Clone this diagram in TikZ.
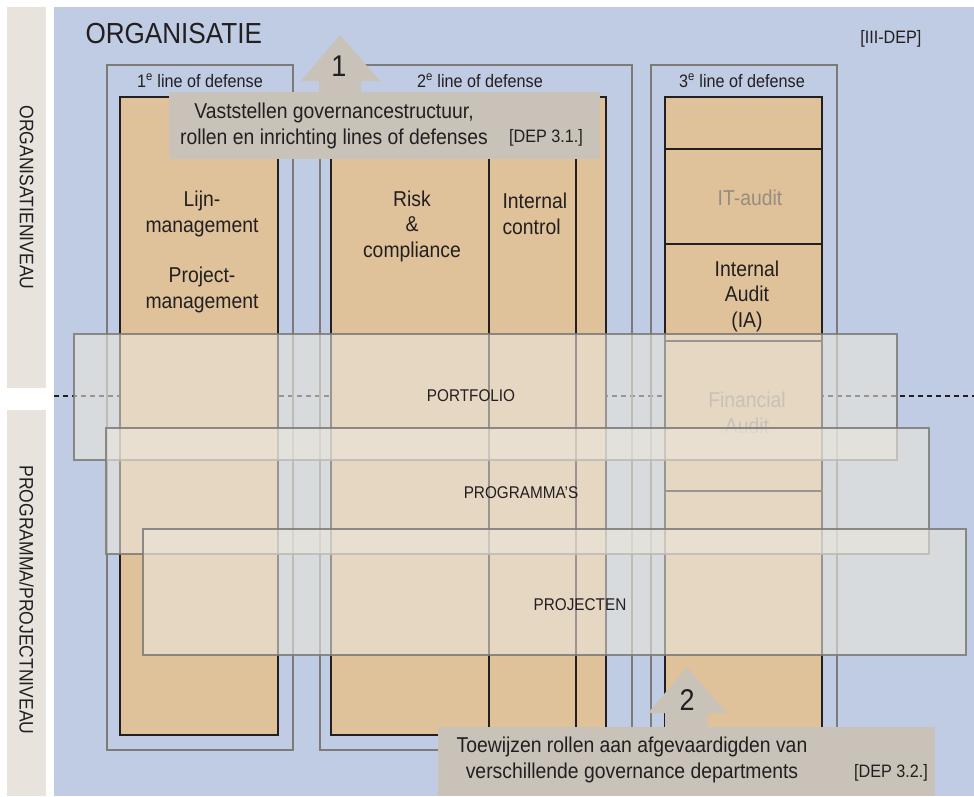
\documentclass[tikz,border=0pt]{standalone}
\usepackage{fontspec}
\setmainfont{Liberation Sans}[FakeStretch=0.9]
\usetikzlibrary{calc}

\definecolor{bgblue}{RGB}{191,204,227}
\definecolor{colorange}{RGB}{223,194,153}
\definecolor{sidegrey}{RGB}{232,227,221}
\definecolor{notegrey}{RGB}{201,194,184}
\definecolor{framegrey}{RGB}{125,122,120}
\definecolor{inkblack}{RGB}{35,31,32}
\definecolor{fadetext}{RGB}{150,140,128}
\definecolor{veil}{RGB}{234,229,220}

\begin{document}
\begin{tikzpicture}[x=1pt,y=-1pt,
	box/.style={inner sep=0pt,outer sep=0pt,anchor=north west},
	lod/.style={box,draw=framegrey,line width=2pt},
	column/.style={box,draw=inkblack,fill=colorange,line width=2.5pt},
	divider/.style={draw=inkblack,line width=2.5pt},
	level/.style={box,draw=framegrey,fill=veil,fill opacity=0.6,draw opacity=0.85,line width=2pt},
	note/.style={box,fill=notegrey},
	txt/.style={font=\fontsize{21.5}{25.5}\selectfont,text=inkblack,align=center},
	small/.style={font=\fontsize{18}{22}\selectfont,text=inkblack},
	lvl/.style={font=\fontsize{17}{20}\selectfont,text=inkblack}]
		\useasboundingbox (0,0) rectangle (974,796);
		\node[box,fill=sidegrey,minimum width=39pt,minimum height=381pt] (side1) at (7,7) {};
		\node[box,fill=sidegrey,minimum width=39pt,minimum height=386pt] (side2) at (7,410) {};
		\node[box,fill=bgblue,minimum width=920pt,minimum height=789pt] (bg) at (54,7) {};
		\node[font=\fontsize{19.5}{22}\selectfont,text=inkblack,rotate=-90] (orgniv) at (side1.center) {ORGANISATIENIVEAU};
		\node[font=\fontsize{19.5}{22}\selectfont,text=inkblack,rotate=-90] (prjniv) at ($(side2.center)+(0,-3)$) {PROGRAMMA/PROJECTNIVEAU};
		\node[font=\fontsize{29}{32}\selectfont,text=inkblack,anchor=base west] (title) at (82,43) {ORGANISATIE};
		\node[small,anchor=base east] (ref) at (925,43) {[III-DEP]};

		\coordinate (dl) at (54,396);
		\coordinate (dr) at (974,396);
		\draw[inkblack,line width=1.6pt,dash pattern=on 5pt off 4pt] (dl) -- (dr);

		\node[lod,minimum width=186pt,minimum height=685pt] (lod1) at (107,65) {};
		\node[lod,minimum width=312pt,minimum height=685pt] (lod2) at (320,65) {};
		\node[lod,minimum width=186pt,minimum height=685pt] (lod3) at (651,65) {};
		\node[small,anchor=base] (lodt1) at (200,87) {1\textsuperscript{e} line of defense};
		\node[small,anchor=base] (lodt2) at (480,87) {2\textsuperscript{e} line of defense};
		\node[small,anchor=base] (lodt3) at (742,87) {3\textsuperscript{e} line of defense};

		\node[column,minimum width=158pt,minimum height=638pt] (col1) at (120,97) {};
		\node[column,minimum width=275pt,minimum height=638pt] (col2) at (331,97) {};
		\node[column,minimum width=157pt,minimum height=638pt] (col3) at (665,97) {};
		\draw[divider] ($(col2.north west)+(158,0)$) -- ($(col2.south west)+(158,0)$);
		\draw[divider] ($(col2.north west)+(245,0)$) -- ($(col2.south west)+(245,0)$);
		\foreach \dy in {52,147,244,394}
			\draw[divider] ($(col3.north west)+(0,\dy)$) -- ($(col3.north east)+(0,\dy)$);

		\node[txt] (lijn) at (202,214) {Lijn-\\management};
		\node[txt] (proj) at (202,290) {Project-\\management};
		\node[txt] (risk) at (412,226) {Risk\\\&\\compliance};
		\node[txt,align=left,anchor=west] (ic) at (499,214) {Internal\\control};
		\node[txt,text=fadetext] (itaudit) at (750,198) {IT-audit};
		\node[txt] (ia) at (747,296) {Internal\\Audit\\(IA)};
		\node[txt,text=fadetext] (fa) at (747,413) {Financial\\Audit};

		\node[level,minimum width=823pt,minimum height=126pt] (portfolio) at (74,334) {};
		\node[level,minimum width=823pt,minimum height=126pt] (programmas) at (106,428) {};
		\node[level,minimum width=823pt,minimum height=126pt] (projecten) at (143,529) {};
		\node[lvl] (portt) at (471,396) {PORTFOLIO};
		\node[lvl] (progt) at (521,493) {PROGRAMMA’S};
		\node[lvl] (projt) at (580,605) {PROJECTEN};

		\node[note,minimum width=431pt,minimum height=67pt] (note1) at (169,92) {};
		\fill[notegrey] ($(note1.north west)+(150,1)$) -- ++(0,-12) -- ++(-18,0) -- ++(39,-46) -- ++(40,46) -- ++(-19,0) -- ++(0,12) -- cycle;
		\node[font=\fontsize{30}{32}\selectfont,text=inkblack] (num1) at (339,66) {1};
		\node[txt] (note1t) at (334,126) {Vaststellen governancestructuur,\\rollen en inrichting lines of defenses};
		\node[small] (dep31) at (546,138) {[DEP 3.1.]};

		\node[note,minimum width=497pt,minimum height=69pt] (note2) at (438,727) {};
		\fill[notegrey] ($(note2.north west)+(227,1)$) -- ++(0,-15) -- ++(-17,0) -- ++(39,-46) -- ++(40,46) -- ++(-20,0) -- ++(0,15) -- cycle;
		\node[font=\fontsize{30}{32}\selectfont,text=inkblack] (num2) at (687,700) {2};
		\node[txt] (note2t) at (632,760) {Toewijzen rollen aan afgevaardigden van\\verschillende governance departments};
		\node[small] (dep32) at (891,773) {[DEP 3.2.]};
\end{tikzpicture}
\end{document}
